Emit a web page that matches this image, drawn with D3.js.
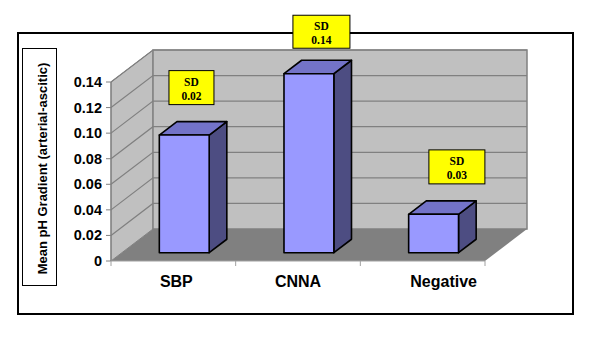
<!DOCTYPE html>
<html><head><meta charset="utf-8">
<script src="https://cdn.jsdelivr.net/npm/d3@7/dist/d3.min.js"></script>
<style>body{margin:0;background:#fff}svg{display:block}</style>
</head><body>
<svg id="c" width="600" height="339"></svg>
<script>
const categories = ["SBP", "CNNA", "Negative"];
const means = [0.092, 0.14, 0.03];
const sdLabels = ["0.02", "0.14", "0.03"];
const yTicks = [0, 0.02, 0.04, 0.06, 0.08, 0.10, 0.12, 0.14];
const yTickLabels = ["0", "0.02", "0.04", "0.06", "0.08", "0.10", "0.12", "0.14"];
const yTitle = "Mean pH Gradient (arterial-ascitic)";

// layout
const svg = d3.select("#c");
const X0 = 111, X1 = 485, Y0 = 261, Y1 = 82;
const DX = 42, DY = -32; // depth vector
const x = d3.scaleBand().domain(categories).range([X0, X1]).paddingInner(0).paddingOuter(0);
const y = d3.scaleLinear().domain([0, 0.14]).range([Y0, Y1]);
const P = (px, py, z) => [px + z * DX, py + z * DY];
const poly = pts => pts.map(p => p.join(",")).join(" ");

// outer frame
svg.append("rect").attr("x", 18).attr("y", 33).attr("width", 555).attr("height", 281)
  .attr("fill", "#fff").attr("stroke", "#000").attr("stroke-width", 2);

// side wall
svg.append("polygon").attr("points", poly([P(X0, Y1, 0), P(X0, Y1, 1), P(X0, Y0, 1), P(X0, Y0, 0)]))
  .attr("fill", "#c0c0c0").attr("stroke", "#808080").attr("stroke-width", 1);
// back wall
svg.append("polygon").attr("points", poly([P(X0, Y1, 1), P(X1, Y1, 1), P(X1, Y0, 1), P(X0, Y0, 1)]))
  .attr("fill", "#c0c0c0").attr("stroke", "#808080").attr("stroke-width", 1.5);
// floor
svg.append("polygon").attr("points", poly([P(X0, Y0, 0), P(X1, Y0, 0), P(X1, Y0, 1), P(X0, Y0, 1)]))
  .attr("fill", "#808080");

// gridlines
const g = svg.append("g").attr("stroke", "#808080").attr("stroke-width", 1.2).attr("fill", "none");
yTicks.filter(t => t > 0).forEach(t => {
  const a = P(X0, y(t), 0), b = P(X0, y(t), 1), c = P(X1, y(t), 1);
  g.append("polyline").attr("points", poly([a, b, c]));
});

// y axis line & ticks
svg.append("line").attr("x1", X0).attr("x2", X0).attr("y1", Y1).attr("y2", Y0).attr("stroke", "#808080").attr("stroke-width", 1.2);
svg.append("line").attr("x1", X0).attr("x2", X1).attr("y1", Y0).attr("y2", Y0).attr("stroke", "#a0a0a0").attr("stroke-width", 1);
yTicks.forEach((t, i) => {
  svg.append("line").attr("x1", X0 - 5).attr("x2", X0).attr("y1", y(t)).attr("y2", y(t)).attr("stroke", "#808080");
  svg.append("text").attr("x", 102).attr("y", y(t) + 5).attr("text-anchor", "end")
    .attr("font-family", "Liberation Sans, Arial, sans-serif").attr("font-weight", "bold").attr("font-size", 14.5)
    .attr("fill", "#000").text(yTickLabels[i]);
});
// x ticks
[X0, ...categories.map(c => x(c) + x.bandwidth())].forEach(px => {
  svg.append("line").attr("x1", px).attr("x2", px).attr("y1", Y0).attr("y2", Y0 + 5).attr("stroke", "#a0a0a0");
});

// bars
const ZF = 0.26, ZB = 0.68, BW = 0.4;
categories.forEach((cat, i) => {
  const cx = x(cat) + x.bandwidth() / 2;
  const l = cx - BW * x.bandwidth() / 2, r = cx + BW * x.bandwidth() / 2;
  const top = y(means[i]);
  const fTL = P(l, top, ZF), fTR = P(r, top, ZF), fBL = P(l, Y0, ZF), fBR = P(r, Y0, ZF);
  const bTL = P(l, top, ZB), bTR = P(r, top, ZB), bBR = P(r, Y0, ZB);
  const bar = svg.append("g").attr("stroke", "#000").attr("stroke-width", 1.6).attr("stroke-linejoin", "round");
  bar.append("polygon").attr("points", poly([fTR, bTR, bBR, fBR])).attr("fill", "#4d4d82");
  bar.append("polygon").attr("points", poly([fTL, bTL, bTR, fTR])).attr("fill", "#7373c8");
  bar.append("polygon").attr("points", poly([fTL, fTR, fBR, fBL])).attr("fill", "#9999ff");
});

// SD labels
const sdBoxes = [[-8, -51, 45, 34], [-8.7, -45, 57, 33], [2.6, -51, 56, 34]]; // dx, dy from bar top-back-left, w, h
categories.forEach((cat, i) => {
  const cx = x(cat) + x.bandwidth() / 2;
  const l = cx - BW * x.bandwidth() / 2;
  const bTL = P(l, y(means[i]), ZB);
  const [dx, dy, w, h] = sdBoxes[i];
  const bx = bTL[0] + dx, by = bTL[1] + dy;
  svg.append("rect").attr("x", bx).attr("y", by).attr("width", w).attr("height", h)
    .attr("fill", "#ffff00").attr("stroke", "#000").attr("stroke-width", 1);
  const t = svg.append("text").attr("text-anchor", "middle").attr("font-family", "Liberation Serif, Times New Roman, serif")
    .attr("font-weight", "bold").attr("font-size", 11.5).attr("fill", "#000");
  t.append("tspan").attr("x", bx + w / 2).attr("y", by + 15).text("SD");
  t.append("tspan").attr("x", bx + w / 2).attr("y", by + 29).text(sdLabels[i]);
});

// x labels
const xLabelShift = [3, 0, 21];
categories.forEach((cat, i) => {
  svg.append("text").attr("x", x(cat) + x.bandwidth() / 2 + xLabelShift[i]).attr("y", 287)
    .attr("text-anchor", "middle").attr("font-family", "Liberation Sans, Arial, sans-serif")
    .attr("font-weight", "bold").attr("font-size", 16).attr("fill", "#000").text(cat);
});

// y title box
svg.append("rect").attr("x", 22.5).attr("y", 48.5).attr("width", 34).attr("height", 237)
  .attr("fill", "#fff").attr("stroke", "#000").attr("stroke-width", 1);
svg.append("text").attr("transform", "translate(46.5,168.5) rotate(-90)").attr("text-anchor", "middle")
  .attr("font-family", "Liberation Sans, Arial, sans-serif").attr("font-weight", "bold").attr("font-size", 13)
  .attr("fill", "#000").text(yTitle);
</script>
</body></html>
